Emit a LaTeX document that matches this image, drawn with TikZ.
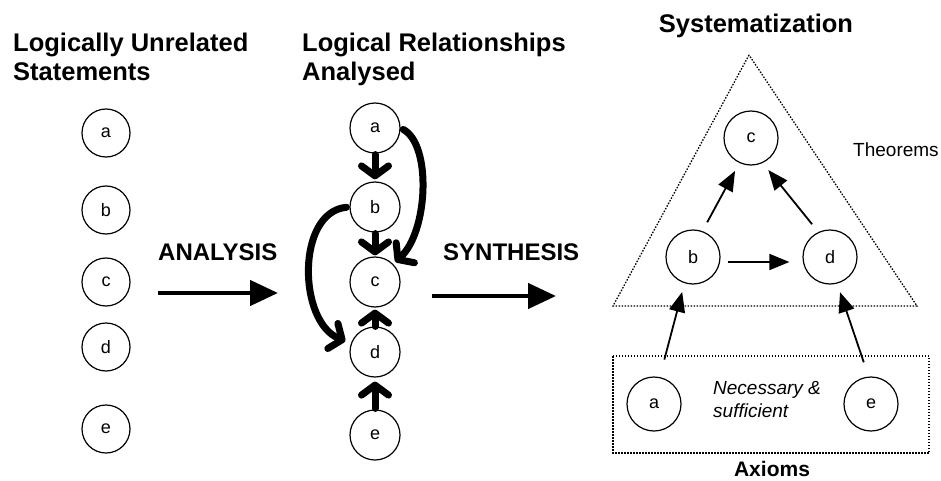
\documentclass[tikz,border=0pt]{standalone}
\usepackage{fontspec}
\setmainfont{Liberation Sans}
\usetikzlibrary{arrows.meta}

\begin{document}
\begin{tikzpicture}[x=1pt,y=-1pt,
    stmt/.style={circle,draw,line width=1.2pt,minimum size=50pt,inner sep=0pt,
      font=\fontsize{18}{18}\selectfont},
    heading/.style={anchor=north west,align=left,inner sep=0pt,
      font=\fontsize{25.5}{28.5}\selectfont\bfseries},
    process/.style={anchor=base west,inner sep=0pt,font=\fontsize{24}{24}\selectfont\bfseries},
    bigarrow/.style={line width=4.5pt,-{Triangle[length=28pt,width=25pt]}},
    hand/.style={line width=7pt,line cap=round,
      -{Straight Barb[length=10pt,width=27pt,round]}},
    link/.style={line width=1.8pt,-{Triangle[length=20pt,width=16pt]}},
    dots/.style={line width=1.3pt,dash pattern=on 1.5pt off 1.5pt}]
  \useasboundingbox (0,0) rectangle (941,481);

  % unrelated statements
  \node[heading] (ttlA) at (13,33) {Logically Unrelated\\Statements};
  \node[stmt,minimum size=48pt] (la) at (106,133) {a};
  \node[stmt,minimum size=48pt] (lb) at (106,210) {b};
  \node[stmt,minimum size=48pt] (lc) at (106,282) {c};
  \node[stmt,minimum size=48pt] (ld) at (106,347) {d};
  \node[stmt,minimum size=48pt] (le) at (106,429) {e};

  \node[process] (analysis) at (158,260) {ANALYSIS};
  \coordinate (an1) at (158,293);
  \coordinate (an2) at (278,293);
  \draw[bigarrow] (an1) -- (an2);

  % relationships analysed
  \node[heading] (ttlB) at (302,33) {Logical Relationships\\Analysed};
  \node[stmt] (ma) at (375,128) {a};
  \node[stmt] (mb) at (375,207) {b};
  \node[stmt] (mc) at (375,282) {c};
  \node[stmt] (md) at (375,352) {d};
  \node[stmt] (me) at (375,435) {e};
  \draw[hand,shorten <=1pt,shorten >=2pt] (ma) -- (mb);
  \draw[hand,shorten <=1pt,shorten >=1pt] (mb) -- (mc);
  \draw[hand,shorten >=2pt] (md) -- (mc);
  \draw[hand,shorten <=1pt,shorten >=4pt] (me) -- (md);
  \draw[hand,shorten <=3pt,shorten >=3pt] (ma.east) .. controls (432,145) and (428,232) .. (mc.north east);
  \draw[hand,shorten <=3pt,shorten >=6pt] (mb.west) .. controls (296,212) and (298,322) .. (md.160);

  \node[process] (synthesis) at (443,260) {SYNTHESIS};
  \coordinate (sy1) at (432,296);
  \coordinate (sy2) at (556,296);
  \draw[bigarrow] (sy1) -- (sy2);

  % systematization
  \node[anchor=base,inner sep=0pt,font=\fontsize{25.5}{25.5}\selectfont\bfseries]
    (ttlC) at (756,33) {Systematization};
  \draw[dots] (749,55) -- (613,306) -- (917,306) -- cycle;
  \draw[dots] (613,356) rectangle (929,453);
  \node[stmt,minimum size=54pt] (sc) at (751,138) {c};
  \node[stmt,minimum size=54pt] (sb) at (693,257) {b};
  \node[stmt,minimum size=54pt] (sd) at (830,257) {d};
  \node[stmt,minimum size=54pt] (sa) at (654,404) {a};
  \node[stmt,minimum size=54pt] (se) at (871,404) {e};
  \draw[link,shorten <=10pt,shorten >=9pt] (sb.70) -- (sc.245);
  \draw[link,shorten <=10pt,shorten >=9pt] (sd.115) -- (sc.295);
  \draw[link,shorten <=7pt,shorten >=13pt] ([yshift=-5pt]sb.east) -- ([yshift=-5pt]sd.west);
  \draw[link,shorten <=18pt,shorten >=9pt] (sa.78) -- (sb.252);
  \draw[link,shorten <=15pt,shorten >=9pt] (se.95) -- (sd.285);

  \node[anchor=base west,inner sep=0pt,font=\fontsize{19}{19}\selectfont]
    (thm) at (853,157) {Theorems};
  \node[anchor=north west,align=left,inner sep=0pt,font=\fontsize{19}{23}\selectfont\itshape]
    (nec) at (713,381) {Necessary \&\\sufficient};
  \node[anchor=base,inner sep=0pt,font=\fontsize{21}{21}\selectfont\bfseries]
    (axm) at (772,476) {Axioms};
\end{tikzpicture}
\end{document}
